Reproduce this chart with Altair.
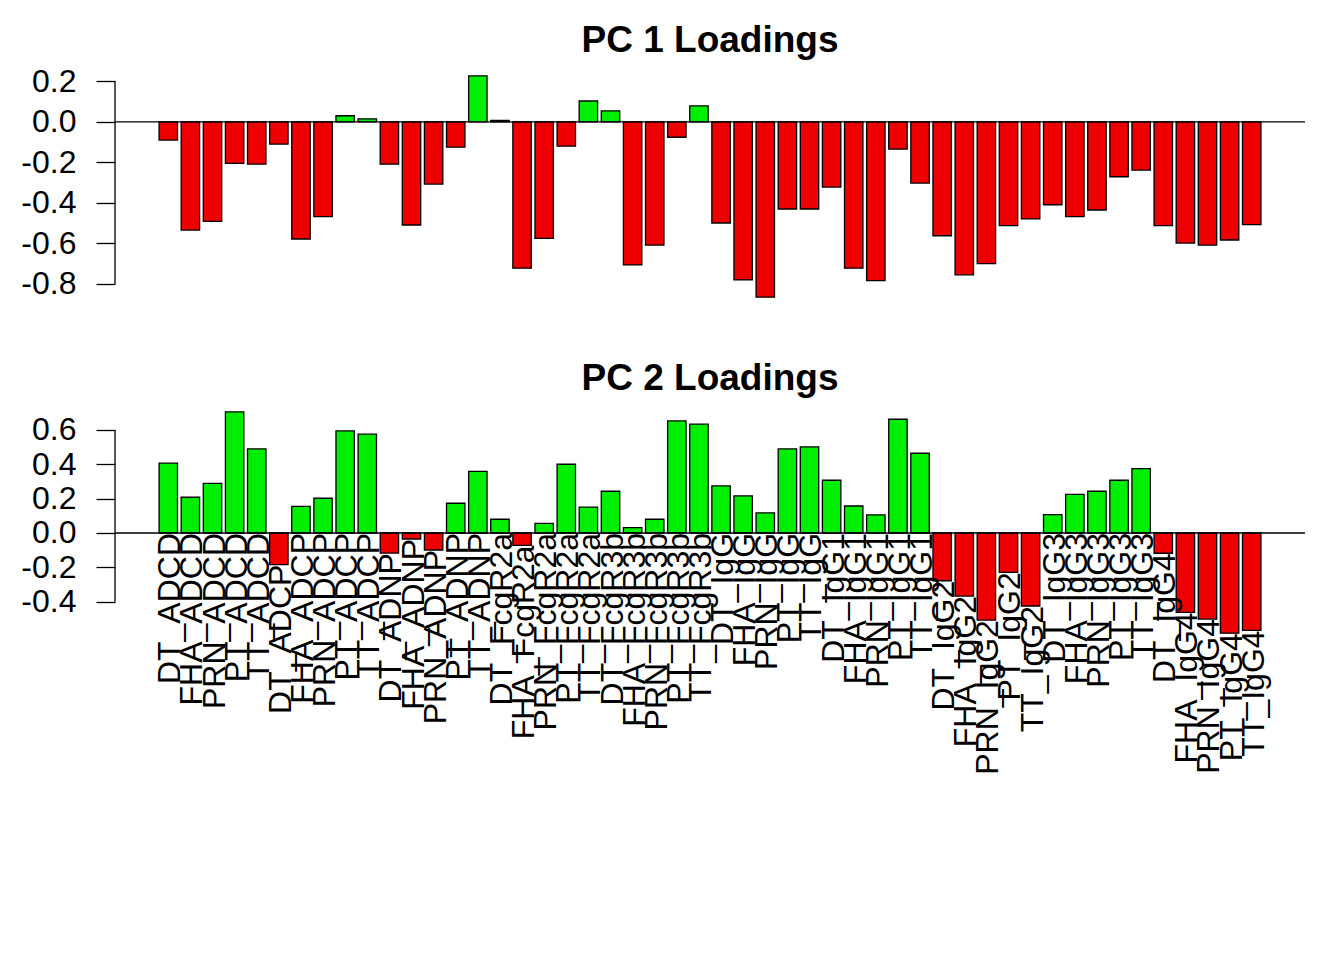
import altair as alt
import pandas as pd

antigens = ["DT", "FHA", "PRN", "PT", "TT"]
features = ["ADCD", "ADCP", "ADNP", "FcgR2a", "FcgR3b", "IgG", "IgG1", "IgG2", "IgG3", "IgG4"]
names = [f"{a}_{f}" for f in features for a in antigens]

pc1 = [-0.090, -0.534, -0.491, -0.205, -0.209, -0.110, -0.578, -0.468, 0.030, 0.015,
       -0.209, -0.509, -0.307, -0.125, 0.227, 0.007, -0.722, -0.575, -0.120, 0.103,
       0.054, -0.706, -0.608, -0.076, 0.079, -0.499, -0.780, -0.865, -0.430, -0.430,
       -0.322, -0.722, -0.783, -0.135, -0.302, -0.562, -0.755, -0.700, -0.512, -0.479,
       -0.409, -0.468, -0.435, -0.271, -0.238, -0.512, -0.598, -0.608, -0.583, -0.507]

pc2 = [0.406, 0.208, 0.289, 0.705, 0.489, -0.184, 0.155, 0.202, 0.594, 0.575,
       -0.117, -0.035, -0.099, 0.173, 0.359, 0.080, -0.072, 0.056, 0.400, 0.150,
       0.243, 0.031, 0.080, 0.652, 0.633, 0.274, 0.216, 0.117, 0.489, 0.501,
       0.307, 0.157, 0.105, 0.662, 0.464, -0.278, -0.367, -0.507, -0.229, -0.425,
       0.107, 0.225, 0.243, 0.307, 0.375, -0.118, -0.462, -0.501, -0.583, -0.567]

ticks1 = [-0.8, -0.6, -0.4, -0.2, 0.0, 0.2]
ticks2 = [-0.4, -0.2, 0.0, 0.2, 0.4, 0.6]

W, H = 1190, 239
FONT = "Liberation Sans"
FS = 32
LABEL_EXPR = "datum.value < 0 ? '-' + format(-datum.value, '.1f') : format(datum.value, '.1f')"

# R barplot geometry: width 1, space 0.2, 4% axis extension
n = len(names)
xlo_raw, xhi_raw = 0.2, 1.2 * n
xext = 0.04 * (xhi_raw - xlo_raw)
xdom = [xlo_raw - xext, xhi_raw + xext]


def panel(values, ticks, title, with_labels):
    lo = min(values + [0.0])
    hi = max(values + [0.0])
    ext = 0.04 * (hi - lo)
    dom = [lo - ext, hi + ext]
    df = pd.DataFrame({"name": names, "v": values, "i": list(range(n))})
    yscale = alt.Scale(domain=dom, nice=False, zero=False)
    xscale = alt.Scale(domain=xdom, nice=False, zero=False)
    base = alt.Chart(df).transform_calculate(
        xl="0.2 + 1.2 * datum.i", xr="1.2 + 1.2 * datum.i", xc="0.7 + 1.2 * datum.i",
        ly="min(0, datum.v)")
    bars = base.mark_bar(stroke="black", strokeWidth=1.3).encode(
        x=alt.X("xl:Q", scale=xscale, axis=None),
        x2="xr:Q",
        y=alt.Y("v:Q", scale=yscale, title=None,
                axis=alt.Axis(values=ticks, tickSize=19, tickWidth=1.3, tickColor="black",
                              domain=False, grid=False, labelFontSize=FS, labelFont=FONT,
                              labelColor="black", labelPadding=20, labelExpr=LABEL_EXPR)),
        y2=alt.datum(0.0),
        color=alt.condition("datum.v > 0", alt.value("#00EE00"), alt.value("#EE0000")),
    )
    one = pd.DataFrame({"k": [0]})
    zero = alt.Chart(one).mark_rule(color="black", strokeWidth=1.3).encode(
        y=alt.datum(0.0), x=alt.value(0), x2=alt.value(W))
    yline = alt.Chart(one).mark_rule(color="black", strokeWidth=1.3).encode(
        x=alt.value(0), y=alt.datum(min(ticks)), y2=alt.datum(max(ticks)))
    layers = [bars, zero, yline]
    if with_labels:
        txt = base.mark_text(
            angle=270, align="right", baseline="middle", font=FONT, fontSize=FS,
            color="black", dy=2).encode(
            x=alt.X("xc:Q", scale=xscale), y=alt.Y("ly:Q", scale=yscale), text="name:N")
        layers.append(txt)
    return alt.layer(*layers).properties(width=W, height=H, title=title)


p1 = panel(pc1, ticks1, "PC 1 Loadings", False)
p2 = panel(pc2, ticks2, "PC 2 Loadings", True)

chart = alt.vconcat(p1, p2, spacing=54).properties(
    padding={"left": 12, "top": 14, "right": 5, "bottom": 5}
).configure_view(strokeWidth=0).configure_title(
    font=FONT, fontSize=37, fontWeight="bold", anchor="middle", color="black",
    baseline="alphabetic", offset=5
)

chart.save("out.html", embed_options={"renderer": "svg", "actions": False})
